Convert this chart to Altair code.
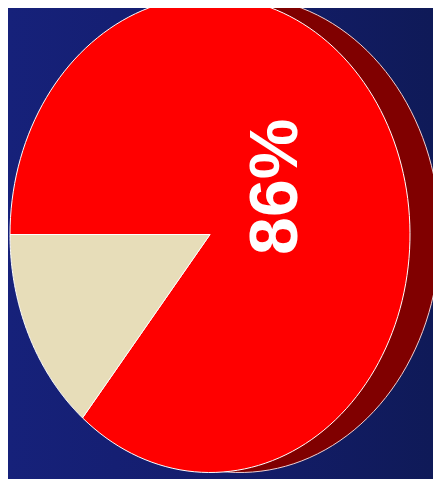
import altair as alt
import pandas as pd

# ---- data ----
labels = ["86%", "14%"]
values = [86, 14]
colors = ["#ff0000", "#e7ddb9"]
shadow_color = "#800000"

W, H = 425, 471
N = 150  # arc resolution

pie = pd.DataFrame({"label": labels, "value": values, "color": colors, "order": [0, 1]})

# unit-ellipse coordinate domains (ellipse centre at ~(202, 226.5) px, radii 200 x 238 px)
xs = alt.Scale(domain=[-202 / 200, (W - 202) / 200], range=[0, W], nice=False, zero=False)
ys = alt.Scale(domain=[-(H - 226.5) / 238, 226.5 / 238], range=[H, 0], nice=False, zero=False)

start_angle = "1.5*PI"

base = alt.Chart(pie).transform_joinaggregate(
    total="sum(value)"
).transform_window(
    cum="sum(value)", sort=[alt.SortField("order")], frame=[None, 0]
).transform_calculate(
    f0="(datum.cum - datum.value) / datum.total",
    f1="datum.cum / datum.total",
)

# background gradient
bg = alt.Chart(pd.DataFrame({"a": [0]})).mark_rect(
    color=alt.Gradient(
        gradient="linear",
        stops=[alt.GradientStop(color="#16217a", offset=0),
               alt.GradientStop(color="#141d6c", offset=0.5),
               alt.GradientStop(color="#0f1a58", offset=1)],
        x1=0, x2=1, y1=0, y2=0,
    )
).encode(x=alt.value(0), x2=alt.value(W), y=alt.value(0), y2=alt.value(H))

# shadow (depth) – whole ellipse, offset to the right
shadow = alt.Chart(pie).transform_aggregate(
    total="sum(value)"
).transform_calculate(
    k=f"sequence(0, {N + 1})"
).transform_flatten(["k"]).transform_calculate(
    a=f"{start_angle} + 2*PI*datum.k/{N}",
    px="sin(datum.a) + 0.15",
    py="cos(datum.a)",
).mark_line(fill=shadow_color, stroke="#f0d0d0", strokeWidth=1, interpolate="linear").encode(
    x=alt.X("px:Q", scale=xs, axis=None),
    y=alt.Y("py:Q", scale=ys, axis=None),
    order=alt.Order("k:Q"),
)

slices = base.transform_calculate(
    k=f"sequence(-1, {N + 2})"
).transform_flatten(["k"]).transform_calculate(
    a=f"{start_angle} + 2*PI*(datum.f0 + (datum.f1 - datum.f0)*clamp(datum.k, 0, {N})/{N})",
    px=f"(datum.k < 0 || datum.k > {N}) ? 0 : sin(datum.a)",
    py=f"(datum.k < 0 || datum.k > {N}) ? 0 : cos(datum.a)",
).mark_line(stroke="white", strokeWidth=1, interpolate="linear", strokeJoin="miter").encode(
    x=alt.X("px:Q", scale=xs, axis=None),
    y=alt.Y("py:Q", scale=ys, axis=None),
    fill=alt.Fill("color:N", scale=None, legend=None),
    detail="label:N",
    order=alt.Order("k:Q"),
)

label = base.transform_filter("datum.value > 50").transform_calculate(
    mid=f"{start_angle} + 2*PI*(datum.f0 + datum.f1)/2",
    tx="0.37*sin(datum.mid)",
    ty="0.47*cos(datum.mid)",
).mark_text(
    angle=270, align="center", baseline="middle", color="white",
    font="Liberation Sans Narrow, Arial Narrow, Liberation Sans, Arial", fontWeight="bold", fontSize=68,
).encode(
    x=alt.X("tx:Q", scale=xs, axis=None),
    y=alt.Y("ty:Q", scale=ys, axis=None),
    text="label:N",
)

chart = alt.layer(bg, shadow, slices, label).properties(
    width=W, height=H, padding=0, autosize=alt.AutoSizeParams(type="none"),
).configure_view(stroke=None).configure(background="#101a5c")

chart.save("out.html", embed_options={"renderer": "svg", "actions": False})
